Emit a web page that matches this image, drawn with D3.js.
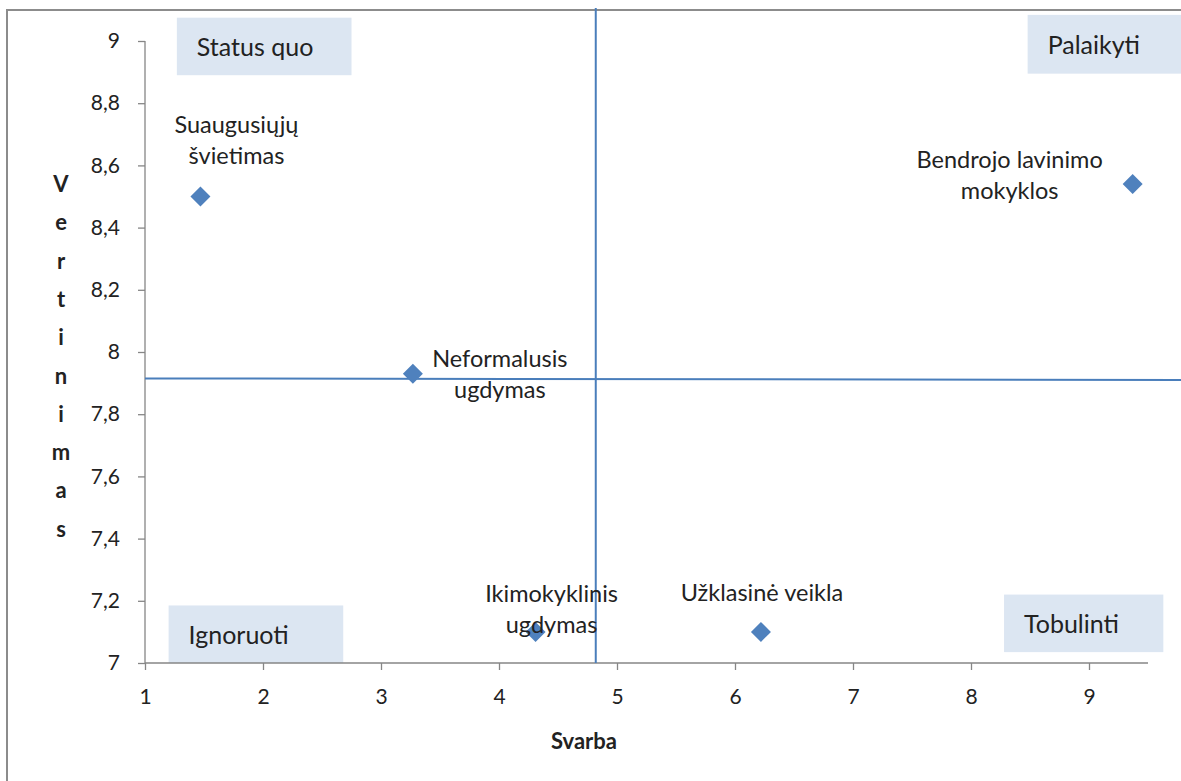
<!DOCTYPE html>
<html>
<head>
<meta charset="utf-8">
<script src="https://cdn.jsdelivr.net/npm/d3@7"></script>
<style>
  body { margin: 0; background: #fff; }
  text { font-family: Lato, "Open Sans", sans-serif; fill: #222; }
</style>
</head>
<body>
<div id="chart"></div>
<script>
// data
const names = ['Suaugusiųjų|švietimas', 'Neformalusis|ugdymas', 'Ikimokyklinis|ugdymas', 'Užklasinė veikla', 'Bendrojo lavinimo|mokyklos'];
const svarba = [1.47, 3.27, 4.31, 6.22, 9.37];
const vertinimas = [8.50, 7.93, 7.10, 7.10, 8.54];
const xTicks = [1, 2, 3, 4, 5, 6, 7, 8, 9];
const yTicks = [7, 7.2, 7.4, 7.6, 7.8, 8, 8.2, 8.4, 8.6, 8.8, 9];
const meanSvarba = 4.82;
const meanVertinimas = 7.915;
const quadrants = ['Status quo', 'Palaikyti', 'Ignoruoti', 'Tobulinti'];

// label placement (pixel offsets from the marker), kept apart from the data
const labelOffsets = [[36, -72], [87, -15], [16, -38], [1, -39], [-123, -24]];

const width = 1181, height = 781;
const margin = { left: 145, top: 41, right: 33, bottom: 118 };
const innerWidth = width - margin.left - margin.right;
const innerHeight = height - margin.top - margin.bottom;

const svg = d3.select('#chart').append('svg')
  .attr('width', width)
  .attr('height', height);

// outer chart frame (runs off the right and bottom edge like the original)
svg.append('path')
  .attr('d', `M${width},10H7V${height}`)
  .attr('fill', 'none').attr('stroke', '#8c8c8c').attr('stroke-width', 2);

const g = svg.append('g').attr('transform', `translate(${margin.left},${margin.top})`);

const x = d3.scaleLinear().domain([1, 9.5]).range([0, innerWidth]);
const y = d3.scaleLinear().domain([7, 9]).range([innerHeight, 0]);

// quadrant boxes (drawn first, behind everything)
const boxes = [
  { text: quadrants[0], x0: 1.27, x1: 2.75, y0: 9.075, y1: 8.89 },
  { text: quadrants[1], x0: 8.48, x1: 9.9, y0: 9.084, y1: 8.895 },
  { text: quadrants[2], x0: 1.2, x1: 2.68, y0: 7.185, y1: 7.0 },
  { text: quadrants[3], x0: 8.28, x1: 9.63, y0: 7.22, y1: 7.035 }
];
const bx = g.selectAll('.quad').data(boxes).join('g').attr('class', 'quad');
bx.append('rect')
  .attr('x', d => x(d.x0))
  .attr('y', d => y(d.y0))
  .attr('width', d => x(d.x1) - x(d.x0))
  .attr('height', d => y(d.y1) - y(d.y0))
  .attr('fill', '#dce6f2');
bx.append('text')
  .attr('x', d => x(d.x0) + 20)
  .attr('y', d => (y(d.y0) + y(d.y1)) / 2 + 10)
  .style('font-size', '25px')
  .text(d => d.text);

// axes
const xAxis = g.append('g')
  .attr('transform', `translate(0,${innerHeight})`)
  .call(d3.axisBottom(x).tickValues(xTicks).tickSize(7).tickPadding(19).tickFormat(d3.format('d')));
const yAxis = g.append('g')
  .call(d3.axisLeft(y).tickValues(yTicks).tickSize(7).tickPadding(18)
    .tickFormat(d => d3.format('.1~f')(d).replace('.', ',')));
[xAxis, yAxis].forEach(a => {
  a.select('.domain').attr('stroke', '#868686').attr('stroke-width', 1.3);
  a.selectAll('.tick line').attr('stroke', '#868686').attr('stroke-width', 1.3);
  a.selectAll('.tick text').style('font-size', '21px').style('font-family', 'Lato, "Open Sans", sans-serif').attr('fill', '#222');
});
xAxis.select('.domain').attr('d', `M0,0H${innerWidth}`);
yAxis.select('.domain').attr('d', `M0,${innerHeight}V0`);

// mean lines
g.append('line')
  .attr('x1', x(meanSvarba)).attr('x2', x(meanSvarba))
  .attr('y1', -margin.top + 8).attr('y2', innerHeight)
  .attr('stroke', '#4a7ebb').attr('stroke-width', 2);
g.append('line')
  .attr('x1', 0).attr('x2', width - margin.left)
  .attr('y1', y(meanVertinimas)).attr('y2', y(meanVertinimas) + 1.5)
  .attr('stroke', '#4a7ebb').attr('stroke-width', 2);

// points
const pts = names.map((n, i) => ({ name: n, sx: svarba[i], vy: vertinimas[i], off: labelOffsets[i] }));
g.selectAll('.pt').data(pts).join('path')
  .attr('class', 'pt')
  .attr('d', d3.symbol(d3.symbolSquare, 200))
  .attr('transform', d => `translate(${x(d.sx)},${y(d.vy)}) rotate(45)`)
  .attr('fill', '#4f81bd');

// point labels
const lbl = g.selectAll('.lbl').data(pts).join('text')
  .attr('class', 'lbl')
  .attr('text-anchor', 'middle')
  .style('font-size', '23.5px')
  .attr('transform', d => `translate(${x(d.sx) + d.off[0]},${y(d.vy) + d.off[1]})`);
lbl.selectAll('tspan').data(d => d.name.split('|')).join('tspan')
  .attr('x', 0)
  .attr('dy', (d, i) => i === 0 ? '0.35em' : '31px')
  .text(d => d);

// axis titles
g.append('text')
  .attr('x', x(4.72)).attr('y', innerHeight + 86)
  .attr('text-anchor', 'middle')
  .style('font-size', '22px').style('font-weight', 'bold')
  .text('Svarba');

const yTitle = 'Vertinimas'.split('');
svg.append('g').selectAll('text').data(yTitle).join('text')
  .attr('x', 61)
  .attr('y', (d, i) => 192 + i * 38.3)
  .attr('text-anchor', 'middle')
  .style('font-size', '22px').style('font-weight', 'bold')
  .text(d => d);
</script>
</body>
</html>
